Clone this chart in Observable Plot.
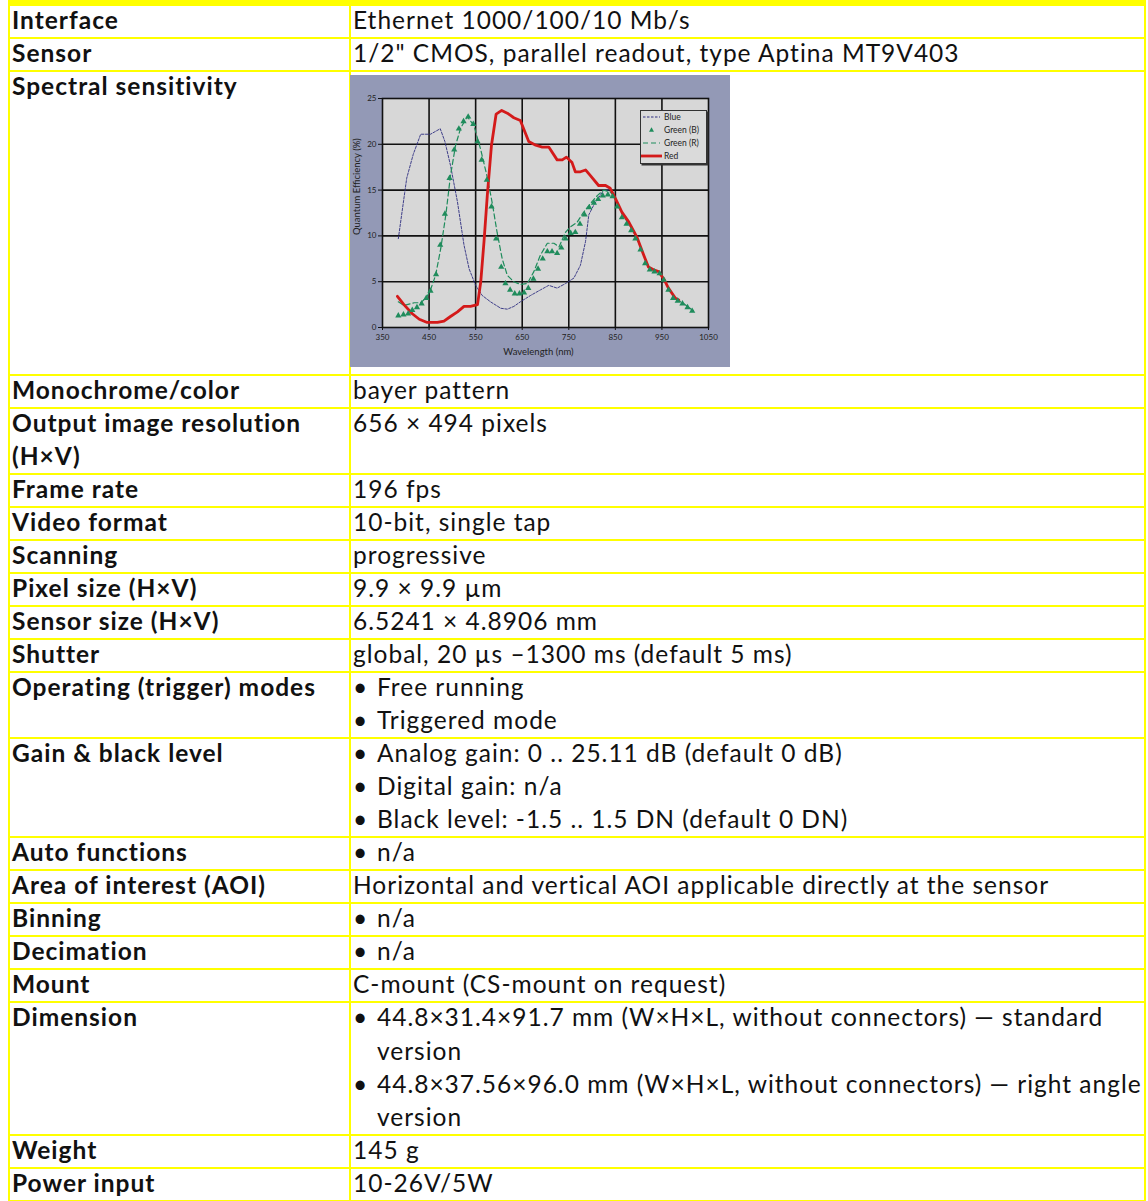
<!DOCTYPE html>
<html>
<head>
<meta charset="utf-8">
<script src="https://cdn.jsdelivr.net/npm/d3@7"></script>
<script src="https://cdn.jsdelivr.net/npm/@observablehq/plot@0.6"></script>
<style>
  html, body { margin: 0; padding: 0; background: #fff; }
  body { width: 1148px; height: 1201px; position: relative; overflow: hidden; font-family: Lato, "Open Sans", sans-serif; color: #111; }
  #band { position: absolute; left: 8px; top: 0; width: 1138px; height: 6px; background: #ffff00; }
  table { position: absolute; left: 8px; top: 4px; border-collapse: collapse; width: 1138px; table-layout: fixed; }
  td { border: 2px solid #ffff00; padding: 0 0 0 2px; vertical-align: top; font-size: 24.5px; letter-spacing: 1px; white-space: nowrap; }
  td > .in { position: relative; top: -3px; line-height: 33.05px; margin-bottom: -2px; }
  td.lab { font-weight: bold; width: 337px; }
  .ln { display: block; }
  .bl { display: flex; }
  .bl .b { width: 24px; flex: none; letter-spacing: 0; }
  .cont { padding-left: 24px; }
  td.chartcell { padding: 2.5px 0 7px 0; line-height: 0; letter-spacing: 0; }
  #chartwrap { position: relative; width: 380px; height: 292px; left: -1px; }
  #legend { position: absolute; left: 290px; top: 35px; width: 65px; height: 52px; background: #dadada; border: 1px solid #333; box-shadow: 1.5px 1.5px 0 #333; font-family: Lato, sans-serif; font-size: 8.5px; line-height: 13px; color: #222; }
  #legend .e { display: flex; align-items: center; height: 13px; }
  #legend svg { flex: none; margin-right: 2px; }
</style>
</head>
<body>
<div id="band"></div>
<table id="spec"></table>
<script>
// ---------- table content ----------
const rowLabels = [
  ["Interface"], ["Sensor"], ["Spectral sensitivity"], ["Monochrome/color"],
  ["Output image resolution", "(H×V)"], ["Frame rate"], ["Video format"], ["Scanning"],
  ["Pixel size (H×V)"], ["Sensor size (H×V)"], ["Shutter"], ["Operating (trigger) modes"],
  ["Gain & black level"], ["Auto functions"], ["Area of interest (AOI)"], ["Binning"],
  ["Decimation"], ["Mount"], ["Dimension"], ["Weight"], ["Power input"]
];
const rowValues = [
  ["Ethernet 1000/100/10 Mb/s"],
  ["1/2\" CMOS, parallel readout, type Aptina MT9V403"],
  ["#chart"],
  ["bayer pattern"],
  ["656 × 494 pixels"],
  ["196 fps"],
  ["10-bit, single tap"],
  ["progressive"],
  ["9.9 × 9.9 µm"],
  ["6.5241 × 4.8906 mm"],
  ["global, 20 µs –1300 ms (default 5 ms)"],
  ["• Free running", "• Triggered mode"],
  ["• Analog gain: 0 .. 25.11 dB (default 0 dB)", "• Digital gain: n/a", "• Black level: -1.5 .. 1.5 DN (default 0 DN)"],
  ["• n/a"],
  ["Horizontal and vertical AOI applicable directly at the sensor"],
  ["• n/a"],
  ["• n/a"],
  ["C-mount (CS-mount on request)"],
  ["• 44.8×31.4×91.7 mm (W×H×L, without connectors) — standard", "> version", "• 44.8×37.56×96.0 mm (W×H×L, without connectors) — right angle", "> version"],
  ["145 g"],
  ["10-26V/5W"]
];

// ---------- chart data ----------
const xTicks = [350, 450, 550, 650, 750, 850, 950, 1050];
const yTicks = [0, 5, 10, 15, 20, 25];
const xLabel = "Wavelength (nm)";
const yLabel = "Quantum Efficiency (%)";
const seriesNames = ["Blue", "Green (B)", "Green (R)", "Red"];

const blueX = [384,402,416,432,453,474,484,496,511,525,536,550,564,582,604,618,632,646,668,689,707,725,743,761,775,786,793,804,825,836];
const blueY = [9.7,16.3,18.9,21.1,21.1,21.7,20.3,17.7,13.7,9.0,6.4,4.6,3.5,2.8,2.1,2.0,2.3,2.8,3.5,4.1,4.6,4.3,4.8,5.4,6.8,9.4,12.3,13.4,15.0,15.0];

const greenBX = [384,395,405,414,424,434,444,453,465,474,484,494,504,514,524,534,545,554,563,574,584,594,605,614,624,634,644,654,663,674,684,694,704,714,725,734,743,754,764,774,784,794,804,813,823,834,844,854,864,874,884,893,904,914,924,934,945,954,964,974,984,994,1005,1015];
const greenBY = [1.3,1.4,1.5,1.9,2.2,2.6,3.2,4.0,5.8,9.0,12.4,16.3,19.4,21.7,22.5,23.0,22.2,20.3,18.3,16.1,13.2,9.7,6.6,4.8,4.1,3.7,3.7,3.8,4.3,5.3,6.4,7.5,8.3,8.3,8.1,8.7,9.7,10.3,10.4,11.3,12.3,13.1,13.6,14.0,14.4,14.5,14.3,13.2,12.0,11.3,10.6,9.7,8.5,7.0,6.3,6.1,5.9,5.2,4.1,3.2,2.9,2.6,2.2,1.8];

const greenRX = [384,396,418,432,445,453,464,475,486,496,507,518,532,546,561,575,586,596,607,618,632,646,661,675,689,704,718,729,743,754,768,782,796,811,825,839,850,864,879,896,911,921,932,943,954,964,979,994,1005,1018];
const greenRY = [2.8,2.4,2.7,2.7,3.3,4.1,5.7,8.6,12.3,16.6,19.9,21.8,23.0,22.1,19.4,16.4,13.5,10.4,7.5,5.7,5.0,4.7,4.8,6.1,7.9,9.2,9.2,8.8,10.4,11.0,11.5,12.6,13.5,14.4,15.0,14.8,14.1,12.4,11.3,9.8,7.9,6.7,6.3,6.0,5.4,4.3,3.2,2.7,2.3,1.8];

const redX = [382,396,414,429,446,468,482,496,511,525,539,554,561,568,575,584,594,606,618,632,646,664,679,693,707,725,736,745,757,764,775,786,796,814,829,839,850,864,879,896,911,921,932,943,954,964,979,986];
const redY = [3.4,2.5,1.5,0.9,0.55,0.55,0.7,1.2,1.7,2.3,2.3,2.5,5.0,9.4,14.4,19.9,23.3,23.7,23.4,22.9,22.6,20.3,19.9,19.7,19.7,18.3,18.3,18.6,18.0,17.0,17.0,17.2,16.6,15.5,15.5,15.2,14.1,12.6,11.5,9.9,7.9,6.6,6.3,6.1,5.3,4.3,3.2,3.0];

const zip = (xs, ys) => xs.map((x, i) => ({x, y: ys[i]}));
const blue = zip(blueX, blueY), greenB = zip(greenBX, greenBY), greenR = zip(greenRX, greenRY), red = zip(redX, redY);

const C = {blue: "#2e2e80", green: "#1f8c5c", red: "#d41a1a", bg: "#9399b6", panel: "#d7d7d7", ink: "#111"};

function makeChart() {
  return Plot.plot({
    width: 380, height: 292,
    marginLeft: 32, marginRight: 22, marginTop: 23, marginBottom: 40,
    style: {background: C.bg, fontFamily: "Lato, sans-serif", fontSize: "8px", color: "#222", overflow: "visible"},
    x: {domain: [350, 1050]},
    y: {domain: [0, 25]},
    marks: [
      Plot.frame({fill: C.panel}),
      Plot.ruleX(xTicks.slice(1, -1), {stroke: C.ink, strokeWidth: 1.6}),
      Plot.ruleY(yTicks.slice(1, -1), {stroke: C.ink, strokeWidth: 1.6}),
      Plot.frame({stroke: C.ink, strokeWidth: 1.6}),
      Plot.line(blue, {x: "x", y: "y", stroke: C.blue, strokeWidth: 0.9, strokeDasharray: "2.5,1.5"}),
      Plot.line(greenR, {x: "x", y: "y", stroke: C.green, strokeWidth: 1.2, strokeDasharray: "5,3"}),
      Plot.line(red, {x: "x", y: "y", stroke: C.red, strokeWidth: 2.8}),
      Plot.dot(greenB, {x: "x", y: "y", symbol: "triangle", r: 2.3, fill: C.green, stroke: "none"}),
      Plot.axisX({ticks: xTicks, tickFormat: d => String(d), tickSize: 3, tickPadding: 4, stroke: C.ink, label: null}),
      Plot.axisY({ticks: yTicks, tickFormat: d => String(d), tickSize: 4, tickPadding: 2, stroke: C.ink, label: null}),
      Plot.text([xLabel], {text: d => d, frameAnchor: "bottom", dy: 27, dx: -7, fontSize: 9.5, fill: "#222"}),
      Plot.text([yLabel], {text: d => d, frameAnchor: "left", rotate: -90, dx: -26, dy: 22, fontSize: 9.5, fill: "#222"})
    ]
  });
}

function makeLegend() {
  const lg = document.createElement("div");
  lg.id = "legend";
  const sw = {
    "Blue": `<line x1="2" x2="19" y1="5" y2="5" stroke="${C.blue}" stroke-width="1" stroke-dasharray="2.5,1.5"/>`,
    "Green (B)": `<path d="M10.5,2.3 L13,6.8 L8,6.8 Z" fill="${C.green}"/>`,
    "Green (R)": `<line x1="2" x2="19" y1="5" y2="5" stroke="${C.green}" stroke-width="1.2" stroke-dasharray="5,3"/>`,
    "Red": `<line x1="0" x2="21" y1="5" y2="5" stroke="${C.red}" stroke-width="2.8"/>`
  };
  lg.innerHTML = seriesNames.map(n => `<div class="e"><svg width="21" height="10">${sw[n]}</svg><span>${n}</span></div>`).join("");
  return lg;
}

// ---------- build table ----------
const table = document.getElementById("spec");
rowLabels.forEach((lab, i) => {
  const tr = document.createElement("tr");
  const td1 = document.createElement("td");
  td1.className = "lab";
  td1.innerHTML = `<div class="in">` + lab.map(t => `<span class="ln">${t.replace(/&/g, "&amp;")}</span>`).join("") + `</div>`;
  const td2 = document.createElement("td");
  const vals = rowValues[i];
  if (vals[0] === "#chart") {
    td2.className = "chartcell";
    const wrap = document.createElement("div");
    wrap.id = "chartwrap";
    wrap.appendChild(makeChart());
    wrap.appendChild(makeLegend());
    td2.appendChild(wrap);
  } else {
    td2.innerHTML = `<div class="in">` + vals.map(t => {
      if (t.startsWith("• ")) return `<div class="bl"><span class="b">•</span><span>${t.slice(2)}</span></div>`;
      if (t.startsWith("> ")) return `<div class="cont">${t.slice(2)}</div>`;
      return `<span class="ln">${t}</span>`;
    }).join("") + `</div>`;
  }
  tr.appendChild(td1); tr.appendChild(td2);
  table.appendChild(tr);
});
</script>
</body>
</html>
